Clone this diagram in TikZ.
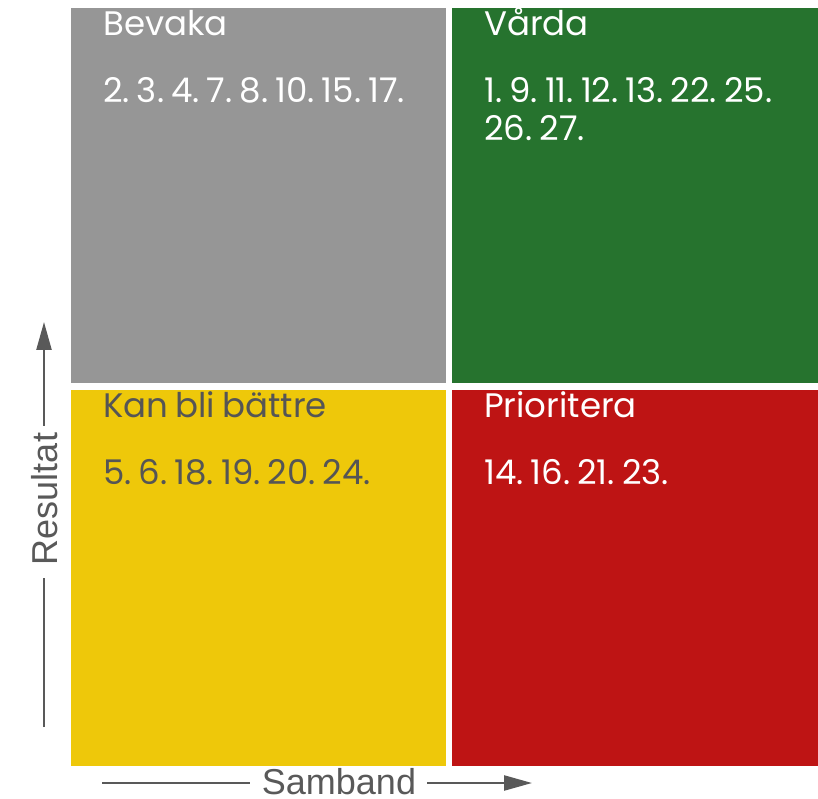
\documentclass[tikz,border=0pt]{standalone}
\usepackage{fontspec}
\setmainfont{Poppins}[WordSpace=0.45]
\newfontfamily\titlefont{Poppins}[WordSpace=0.8]
\newfontfamily\axisfont{Liberation Sans}
\usetikzlibrary{arrows.meta}
\definecolor{qgray}{RGB}{150,150,150}
\definecolor{qgreen}{RGB}{38,115,46}
\definecolor{qyellow}{RGB}{238,200,10}
\definecolor{qred}{RGB}{190,20,20}
\definecolor{axisc}{RGB}{89,89,89}
\definecolor{darktext}{RGB}{85,85,85}
\begin{document}
\begin{tikzpicture}[x=1pt,y=1pt,
  quad/.style={fill=#1,draw=none},
  qtext/.style={anchor=base west,inner sep=0pt,font=\fontsize{34}{38}\selectfont,align=left},
  qtitle/.style={qtext,font=\titlefont\fontsize{34}{38}\selectfont},
  axislabel/.style={font=\axisfont\fontsize{36}{40}\selectfont,text=axisc,inner sep=0pt},
  axisline/.style={draw=axisc,line width=2.4pt},
  tip/.style={-{Triangle[length=28pt,width=15pt]}}]
\useasboundingbox (0,0) rectangle (818,798);
% quadrants
\fill[quad=qgray] (71,415) rectangle (446,790);
\fill[quad=qgreen] (452,415) rectangle (818,790);
\fill[quad=qyellow] (71,32) rectangle (446,408);
\fill[quad=qred] (452,32) rectangle (818,408);
% texts
\node[qtitle,text=white] (bevaka) at (103,762) {Bevaka};
\node[qtext,text=white] (bevakan) at (103,695) {2. 3. 4. 7. 8. 10. 15. 17.};
\node[qtitle,text=white] (varda) at (484,762) {Vårda};
\node[qtext,text=white] (vardan) at (484,695) {1. 9. 11. 12. 13. 22. 25.};
\node[qtext,text=white] (vardan2) at (484,657) {26. 27.};
\node[qtitle,text=darktext] (kan) at (103,380) {Kan bli bättre};
\node[qtext,text=darktext] (kann) at (103,313) {5. 6. 18. 19. 20. 24.};
\node[qtitle,text=white] (prio) at (484,380) {Prioritera};
\node[qtext,text=white] (prion) at (484,313) {14. 16. 21. 23.};
% x axis
\node[axislabel,anchor=base] (samband) at (339,4) {Samband};
\coordinate (xs) at (102,15);
\coordinate (xl) at (250,15);
\coordinate (xr) at (427,15);
\coordinate (xe) at (532,15);
\draw[axisline] (xs) -- (xl);
\draw[axisline,tip] (xr) -- (xe);
% y axis
\node[axislabel,anchor=base,rotate=90] (resultat) at (57,299) {Resultat};
\coordinate (ys) at (44,71);
\coordinate (yl) at (44,220);
\coordinate (yr) at (44,372);
\coordinate (ye) at (44,476);
\draw[axisline] (ys) -- (yl);
\draw[axisline,tip] (yr) -- (ye);
\end{tikzpicture}
\end{document}
